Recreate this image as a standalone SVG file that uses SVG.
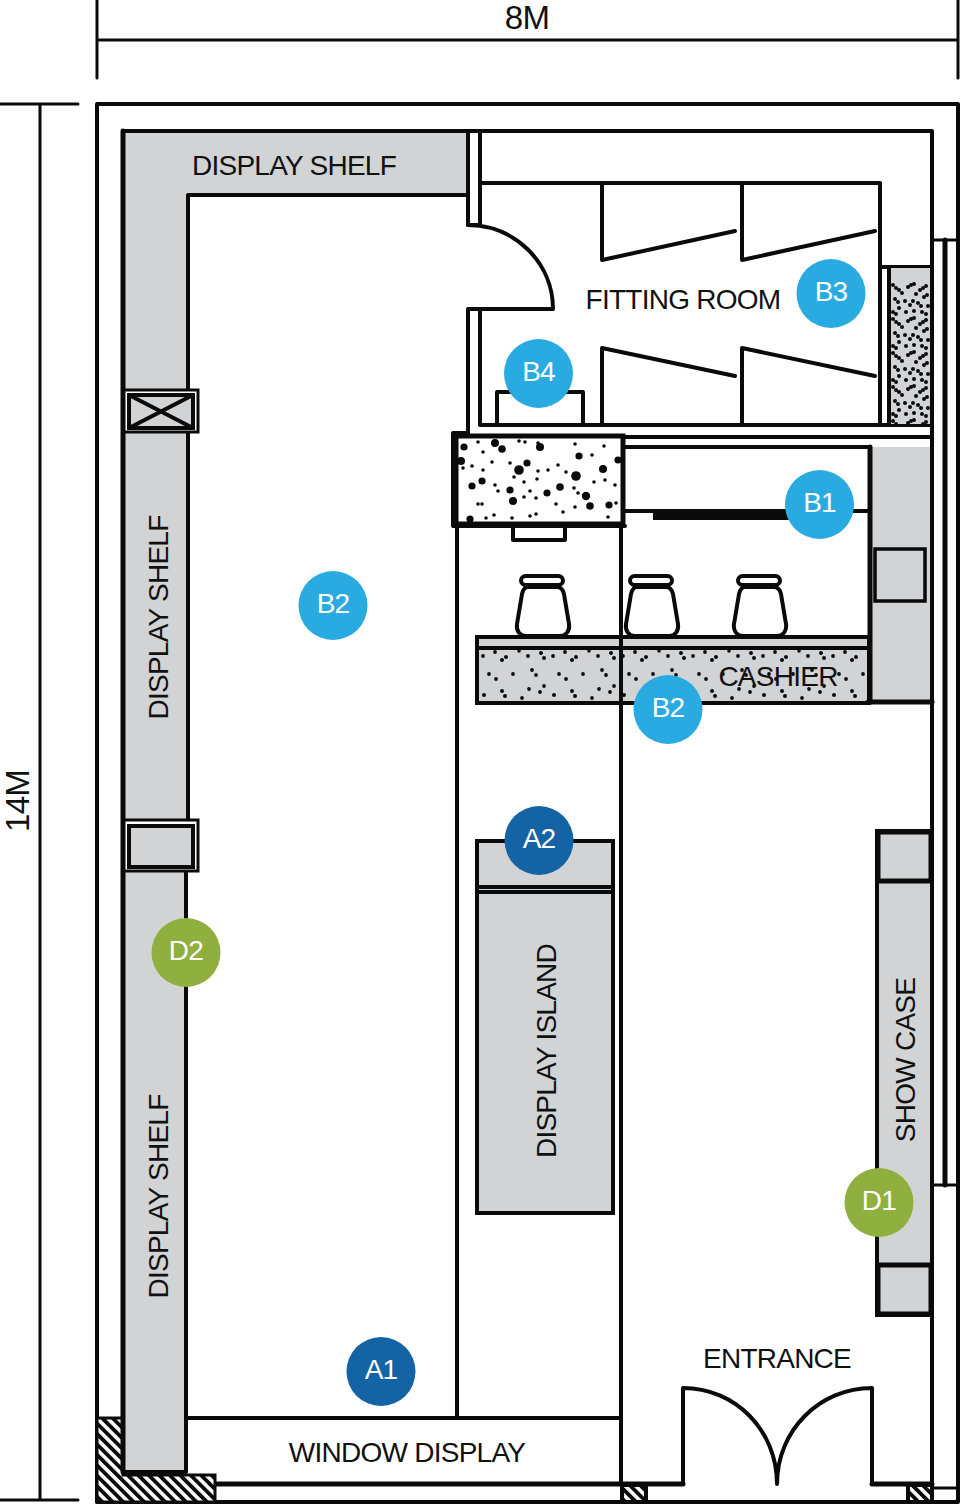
<svg xmlns="http://www.w3.org/2000/svg" width="960" height="1504" viewBox="0 0 960 1504">
<style>
.w{fill:none;stroke:#0a0a0a;stroke-width:4;stroke-linejoin:round;stroke-linecap:round}
.t{stroke-width:5}
.m{stroke-width:3}
.g{fill:#d1d3d4}
text{font-family:"Liberation Sans",Arial,sans-serif;fill:#111;font-size:28px;text-anchor:middle;letter-spacing:-0.75px}
.c text{fill:#fff;font-size:28px}
.b{fill:#29abe2}.a{fill:#1464a5}.d{fill:#8fb03e}
</style>
<defs>
<pattern id="hatch" width="7.4" height="7.4" patternUnits="userSpaceOnUse" patternTransform="rotate(-45)"><rect width="7.4" height="7.4" fill="#fff"/><rect width="3.8" height="7.4" fill="#0a0a0a"/></pattern>
<pattern id="speck" width="70" height="56" patternUnits="userSpaceOnUse" patternTransform="translate(478 648)">
<g fill="#0a0a0a"><circle cx="5" cy="8" r="1.9"/><circle cx="17" cy="4" r="1.9"/><circle cx="24" cy="12" r="2"/><circle cx="28" cy="9" r="2"/><circle cx="41" cy="3" r="1.8"/><circle cx="50" cy="8" r="1.9"/><circle cx="63" cy="5" r="2"/><circle cx="66" cy="10" r="2"/><circle cx="11" cy="26" r="1.9"/><circle cx="18" cy="31" r="1.9"/><circle cx="35" cy="26" r="1.9"/><circle cx="54" cy="22" r="1.9"/><circle cx="58" cy="27" r="1.9"/><circle cx="6" cy="47" r="2"/><circle cx="24" cy="43" r="2"/><circle cx="27" cy="48" r="2"/><circle cx="44" cy="50" r="1.9"/><circle cx="51" cy="41" r="1.9"/><circle cx="62" cy="44" r="1.9"/><circle cx="66" cy="38" r="1.9"/></g></pattern>
<pattern id="dense" width="40" height="34" patternUnits="userSpaceOnUse" patternTransform="translate(890 282)">
<g fill="#0a0a0a"><circle cx="3" cy="3" r="2"/><circle cx="6" cy="6" r="2"/><circle cx="9" cy="8" r="2"/><circle cx="12" cy="11" r="2"/><circle cx="18" cy="5" r="2"/><circle cx="21" cy="3" r="2"/><circle cx="24" cy="2" r="2"/><circle cx="30" cy="8" r="2"/><circle cx="33" cy="6" r="2"/><circle cx="36" cy="4" r="2"/><circle cx="26" cy="12" r="2"/><circle cx="34" cy="15" r="2"/><circle cx="37" cy="13" r="2"/><circle cx="5" cy="17" r="2"/><circle cx="8" cy="20" r="2"/><circle cx="15" cy="19" r="2"/><circle cx="20" cy="23" r="2"/><circle cx="23" cy="19" r="2"/><circle cx="28" cy="21" r="2"/><circle cx="31" cy="24" r="2"/><circle cx="38" cy="24" r="2"/><circle cx="9" cy="26" r="2"/><circle cx="3" cy="30" r="2"/><circle cx="6" cy="32" r="2"/><circle cx="16" cy="30" r="2"/><circle cx="24" cy="29" r="2"/><circle cx="32" cy="30" r="2"/><circle cx="36" cy="32" r="2"/></g></pattern>
</defs>

<g id="dimensions">
<path class="w m" d="M97 0V78M958 0V78M97 40H958M0 104H78M0 1500H78M40 104V1500"/>
<text x="527" y="29" style="font-size:33px">8M</text>
<text transform="translate(29 801) rotate(-90)" style="font-size:33px">14M</text>
</g>

<g id="shell">
<rect class="w" x="97" y="104" width="861" height="1398"/>
<path class="w" d="M123 1472V131H932V1502"/>
<path class="w m" d="M932 240H958M932 1185H958M932 1488H958"/>
<path class="w t" d="M945 240V1185"/>
<path class="w t" d="M215 1484H683M872 1484H932"/>
</g>

<g id="hatch-corners">
<path d="M97 1418H123V1475H215V1502H97Z" fill="url(#hatch)" stroke="#0a0a0a" stroke-width="3"/>
<rect x="622" y="1485" width="24" height="17" fill="url(#hatch)" stroke="#0a0a0a" stroke-width="4"/>
<rect x="908" y="1485" width="24" height="17" fill="url(#hatch)" stroke="#0a0a0a" stroke-width="4"/>
</g>

<g id="display-shelf-top">
<path class="g" d="M123 131H468V195H188V1472H123Z"/>
<path class="w" d="M123 131H468V195H188V820M186 871V1472H123"/>
<path class="w t" d="M123 131V1472"/>
<text x="294" y="175">DISPLAY SHELF</text>
</g>
<g id="display-shelf-left">
<text transform="translate(168 617.500) rotate(-90)">DISPLAY SHELF</text>
<text transform="translate(168 1196.500) rotate(-90)">DISPLAY SHELF</text>
</g>
<g id="shelf-unit-1">
<rect x="124" y="390" width="74" height="42" fill="#fff" stroke="#0a0a0a" stroke-width="3"/>
<rect x="129" y="395" width="64" height="33" class="g" stroke="#0a0a0a" stroke-width="4"/>
<path class="w" d="M129 395L193 428M193 395L129 428"/>
</g>
<g id="shelf-unit-2">
<rect x="124" y="820" width="74" height="51" fill="#fff" stroke="#0a0a0a" stroke-width="3"/>
<rect x="129" y="826" width="64" height="41" class="g" stroke="#0a0a0a" stroke-width="4"/>
</g>

<g id="fitting-room">
<path class="w" d="M468 195V225H480M480 131V225M480 310V425H932M480 183H880V425M880 267H932"/>
<path class="w" d="M468 310V432M468 225C515 225 553 263 553 309H468"/>
<path class="w" d="M602 183V260L735 231M742 183V260L875 231M602 425V348L735 376M742 425V348L875 376"/>
<rect x="890" y="268" width="40" height="156" class="g"/>
<rect x="890" y="282" width="40" height="142" fill="url(#dense)"/>
<path d="M889 268V424" stroke="#0a0a0a" stroke-width="4"/>
<path class="w" d="M497 425V392H583V425"/>
<text x="683" y="309">FITTING ROOM</text>
</g>

<g id="cashier">
<rect x="870" y="447" width="60" height="254" class="g"/>
<path class="w" d="M625 437H932M625 447H870M625 511H870"/>
<rect x="653" y="510" width="150" height="10" fill="#0a0a0a"/>
<path class="w t" d="M870 447V702"/>
<rect x="875" y="549" width="50" height="52" class="g" stroke="#0a0a0a" stroke-width="3.500"/>
<rect x="477" y="637" width="392" height="66" class="g" stroke="#0a0a0a" stroke-width="4"/>
<rect x="478" y="649" width="390" height="52" fill="url(#speck)"/>
<path class="w" d="M477 648H868"/>
<path class="w t" d="M868 702H932"/>
<path class="w" d="M457 526V1418M621 526V1483"/>
<text x="778" y="686">CASHIER</text>
</g>

<g id="speckled-block">
<rect x="456" y="436" width="167" height="88" fill="#fff" stroke="#0a0a0a" stroke-width="5"/>
<path class="w" d="M453 433H468M453 433V526H625"/>
<path class="w t" d="M454 434V525"/>
<g fill="#0a0a0a">
<circle cx="464" cy="447" r="3.600"/><circle cx="495" cy="443" r="4"/><circle cx="502" cy="449" r="3.800"/><circle cx="461" cy="461" r="4"/><circle cx="519" cy="470" r="4.800"/><circle cx="527" cy="463" r="3.600"/><circle cx="540" cy="447" r="4"/><circle cx="579" cy="456" r="3.600"/><circle cx="603" cy="469" r="4"/><circle cx="618" cy="460" r="3.600"/><circle cx="576" cy="476" r="4.800"/><circle cx="560" cy="487" r="3.800"/><circle cx="472" cy="486" r="3.600"/><circle cx="482" cy="481" r="3.600"/><circle cx="510" cy="490" r="3.600"/><circle cx="513" cy="501" r="4"/><circle cx="547" cy="493" r="3.600"/><circle cx="586" cy="496" r="4.200"/><circle cx="590" cy="506" r="3.800"/><circle cx="609" cy="505" r="3.600"/><circle cx="470" cy="519" r="3.600"/>
<circle cx="478" cy="442" r="1.800"/><circle cx="519" cy="441" r="1.800"/><circle cx="525" cy="442" r="1.800"/><circle cx="538" cy="443" r="1.800"/><circle cx="575" cy="444" r="1.800"/><circle cx="604" cy="446" r="1.800"/><circle cx="483" cy="452" r="1.800"/><circle cx="463" cy="468" r="1.800"/><circle cx="472" cy="466" r="1.800"/><circle cx="483" cy="470" r="1.800"/><circle cx="492" cy="462" r="1.800"/><circle cx="510" cy="463" r="1.800"/><circle cx="514" cy="477" r="1.800"/><circle cx="538" cy="471" r="1.800"/><circle cx="548" cy="470" r="1.800"/><circle cx="558" cy="465" r="1.800"/><circle cx="566" cy="472" r="1.800"/><circle cx="592" cy="455" r="1.800"/><circle cx="605" cy="480" r="1.800"/><circle cx="495" cy="485" r="1.800"/><circle cx="498" cy="491" r="1.800"/><circle cx="524" cy="482" r="1.800"/><circle cx="537" cy="479" r="1.800"/><circle cx="530" cy="491" r="1.800"/><circle cx="574" cy="488" r="1.800"/><circle cx="578" cy="493" r="1.800"/><circle cx="594" cy="482" r="1.800"/><circle cx="482" cy="504" r="1.800"/><circle cx="478" cy="504" r="1.800"/><circle cx="524" cy="497" r="1.800"/><circle cx="536" cy="498" r="1.800"/><circle cx="556" cy="504" r="1.800"/><circle cx="563" cy="512" r="1.800"/><circle cx="575" cy="507" r="1.800"/><circle cx="486" cy="518" r="1.800"/><circle cx="494" cy="515" r="1.800"/><circle cx="512" cy="518" r="1.800"/><circle cx="530" cy="516" r="1.800"/><circle cx="536" cy="514" r="1.800"/><circle cx="608" cy="517" r="1.800"/><circle cx="615" cy="485" r="1.800"/><circle cx="616" cy="503" r="1.800"/>
</g>
<path class="w" d="M513 527V540H565V527"/>
</g>

<g id="stools">
<g id="stool-1"><rect x="521" y="576" width="42" height="9" rx="4.500" fill="#fff" stroke="#0a0a0a" stroke-width="4"/><path class="w" d="M528 587H557C561 587 563 590 564 594L569 624C570 631 566 636 560 636H526C520 636 516 631 517 624L522 594C523 590 525 587 528 587Z"/></g>
<g id="stool-2"><rect x="630" y="576" width="42" height="9" rx="4.500" fill="#fff" stroke="#0a0a0a" stroke-width="4"/><path class="w" d="M637 587H666C670 587 672 590 673 594L678 624C679 631 675 636 669 636H635C629 636 625 631 626 624L631 594C632 590 634 587 637 587Z"/></g>
<g id="stool-3"><rect x="738" y="576" width="42" height="9" rx="4.500" fill="#fff" stroke="#0a0a0a" stroke-width="4"/><path class="w" d="M745 587H774C778 587 780 590 781 594L786 624C787 631 783 636 777 636H743C737 636 733 631 734 624L739 594C740 590 742 587 745 587Z"/></g>
</g>

<g id="display-island">
<rect x="477" y="841" width="136" height="372" class="g" stroke="#0a0a0a" stroke-width="4"/>
<path class="w" d="M477 887H613M477 892H613"/>
<text transform="translate(556 1051) rotate(-90)">DISPLAY ISLAND</text>
</g>

<g id="show-case">
<rect x="877" y="831" width="55" height="484" class="g" stroke="#0a0a0a" stroke-width="4"/>
<rect x="878" y="832" width="53" height="49" class="g" stroke="#0a0a0a" stroke-width="5"/>
<rect x="878" y="1265" width="53" height="49" class="g" stroke="#0a0a0a" stroke-width="5"/>
<text transform="translate(915 1060) rotate(-90)">SHOW CASE</text>
</g>

<g id="window-display">
<path class="w" d="M187 1418H621"/>
<text x="407" y="1462">WINDOW DISPLAY</text>
</g>

<g id="entrance">
<path class="w" d="M683 1484V1388C735 1388 777 1430 777 1484C777 1430 820 1388 872 1388V1484"/>
<text x="777" y="1368">ENTRANCE</text>
</g>

<g id="marker-B3" class="c"><circle class="b" cx="831" cy="293.500" r="34.500"/><text x="831" y="301">B3</text></g>
<g id="marker-B4" class="c"><circle class="b" cx="538.500" cy="373.500" r="34.500"/><text x="538.500" y="381">B4</text></g>
<g id="marker-B1" class="c"><circle class="b" cx="819.500" cy="504.500" r="34.500"/><text x="819.500" y="512">B1</text></g>
<g id="marker-B2a" class="c"><circle class="b" cx="333" cy="605.500" r="34.500"/><text x="333" y="613">B2</text></g>
<g id="marker-B2b" class="c"><circle class="b" cx="668" cy="709.500" r="34.500"/><text x="668" y="717">B2</text></g>
<g id="marker-A2" class="c"><circle class="a" cx="539" cy="840.500" r="34.500"/><text x="539" y="848">A2</text></g>
<g id="marker-D2" class="c"><circle class="d" cx="186" cy="952.500" r="34.500"/><text x="186" y="960">D2</text></g>
<g id="marker-D1" class="c"><circle class="d" cx="879" cy="1202.500" r="34.500"/><text x="879" y="1210">D1</text></g>
<g id="marker-A1" class="c"><circle class="a" cx="381" cy="1371.500" r="34.500"/><text x="381" y="1379">A1</text></g>
</svg>
